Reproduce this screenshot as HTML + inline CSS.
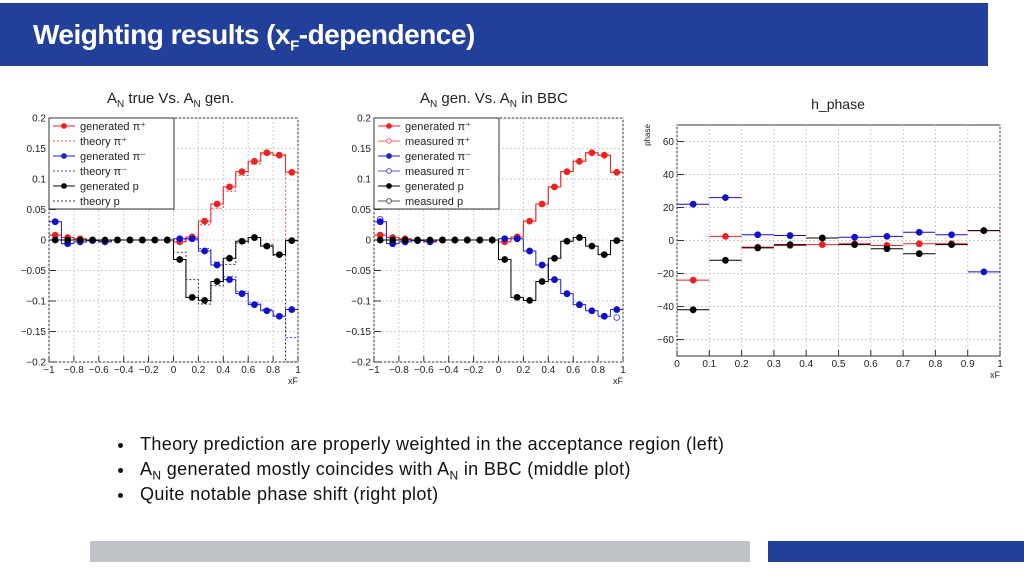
<!DOCTYPE html>
<html><head><meta charset="utf-8">
<style>
body{margin:0;width:1024px;height:574px;background:#fff;position:relative;overflow:hidden;font-family:"Liberation Sans",sans-serif}
#hdr{position:absolute;left:0;top:3px;width:988px;height:63px;background:#22409a}
#title{position:absolute;left:33px;top:19px;color:#fff;font-weight:bold;font-size:28px;white-space:nowrap;letter-spacing:-0.5px}
#title sub{font-size:15px}
ul{position:absolute;left:118px;top:432px;margin:0;padding:0;list-style:none;font-size:18px;letter-spacing:0.35px;color:#111}
li{height:25px;line-height:25px;position:relative;padding-left:22px}
li:before{content:"";position:absolute;left:0;top:11px;width:5px;height:5px;border-radius:50%;background:#111}
li sub{font-size:12px}
#gbar{position:absolute;left:90px;top:541px;width:660px;height:21px;background:#bfc3c8}
#bbar{position:absolute;left:768px;top:541px;width:256px;height:21px;background:#22409a}
svg{position:absolute;left:0;top:0}
</style></head><body>
<div id="hdr"></div>
<div id="title">Weighting results (x<sub>F</sub>-dependence)</div>
<svg id="chart" width="1024" height="574"></svg>
<ul>
<li>Theory prediction are properly weighted in the acceptance region (left)</li>
<li>A<sub>N</sub> generated mostly coincides with A<sub>N</sub> in BBC (middle plot)</li>
<li>Quite notable phase shift (right plot)</li>
</ul>
<div id="gbar"></div>
<div id="bbar"></div>
<script>
const anBins=[-0.95,-0.85,-0.75,-0.65,-0.55,-0.45,-0.35,-0.25,-0.15,-0.05,0.05,0.15,0.25,0.35,0.45,0.55,0.65,0.75,0.85,0.95];
const genPiPlus=[0.008,0.004,0.002,0,-0.002,0,0,0,0,0,-0.003,0.005,0.031,0.059,0.087,0.112,0.129,0.143,0.139,0.111];
const genPiMinus=[0.030,-0.006,-0.003,-0.001,-0.003,0,0,0,0,0,0.002,0.002,-0.018,-0.041,-0.065,-0.088,-0.106,-0.116,-0.125,-0.114];
const genP=[0,0,0,0,0,0,0,0,0,0,-0.032,-0.094,-0.099,-0.068,-0.030,-0.002,0.004,-0.010,-0.024,-0.001];
const thPiPlus=[0.008,0.004,0.002,0,-0.002,0,0,0,0,0,-0.002,0.003,0.025,0.052,0.080,0.106,0.125,0.141,0.140,0.0];
const thPiMinus=[0.030,-0.006,-0.003,-0.001,-0.003,0,0,0,0,0,0.001,0.0,-0.014,-0.036,-0.060,-0.084,-0.103,-0.114,-0.123,-0.160];
const thP=[0,0,0,0,0,0,0,0,0,0,-0.020,-0.065,-0.105,-0.075,-0.040,-0.005,0.004,-0.008,-0.025,-0.2];
const measPiPlus=genPiPlus.slice();
const measPiMinus=[0.034,-0.006,-0.003,-0.001,-0.003,0,0,0,0,0,0.002,0.002,-0.018,-0.041,-0.065,-0.088,-0.106,-0.116,-0.125,-0.127];
const measP=genP.slice();
const anYTicks=[0.2,0.15,0.1,0.05,0,-0.05,-0.1,-0.15,-0.2];
const anYLabels=["0.2","0.15","0.1","0.05","0","\u22120.05","\u22120.1","\u22120.15","\u22120.2"];
const anXTicks=[-1,-0.8,-0.6,-0.4,-0.2,0,0.2,0.4,0.6,0.8,1];
const anXLabels=["\u22121","\u22120.8","\u22120.6","\u22120.4","\u22120.2","0","0.2","0.4","0.6","0.8","1"];
const phBins=[0.05,0.15,0.25,0.35,0.45,0.55,0.65,0.75,0.85,0.95];
const phBlue=[22,26,3.5,3,1.5,2,2.5,5,3.5,-19];
const phRed=[-24,2.5,-4,-3,-2.5,-2,-3,-2,-2,6];
const phBlack=[-42,-12,-4.5,-2.5,1.5,-2.5,-5,-8,-2.5,6];
const phYTicks=[60,40,20,0,-20,-40,-60];
const phXTicks=[0,0.1,0.2,0.3,0.4,0.5,0.6,0.7,0.8,0.9,1];

const svg=document.getElementById('chart');
const NS='http://www.w3.org/2000/svg';
function mk(tag,at,parent){const e=document.createElementNS(NS,tag);for(const k in at)e.setAttribute(k,at[k]);(parent||svg).appendChild(e);return e;}
function txt(x,y,s,size,anchor,parent){const t=mk('text',{x:x,y:y,'font-size':size,'text-anchor':anchor||'middle',fill:'#222'},parent);t.textContent=s;return t;}

function frame(name,L,R,T,B,xmin,xmax,ymin,ymax,xt,xl,yt,yl){
  const g=mk('g',{});
  
  
  const sx=v=>L+(v-xmin)/(xmax-xmin)*(R-L);
  const sy=v=>B-(v-ymin)/(ymax-ymin)*(B-T);
  mk('rect',{x:L,y:T,width:R-L,height:B-T,fill:'#fff',stroke:'#333','stroke-width':1},g);
  xt.forEach((v,i)=>{const x=sx(v);
    mk('line',{x1:x,x2:x,y1:T,y2:B,stroke:'#ccc','stroke-dasharray':'2,2'},g);
    mk('line',{x1:x,x2:x,y1:B,y2:B-6,stroke:'#333'},g);
    const t=txt(x,B+11,xl[i],10,'middle',g);
    
    });
  yt.forEach((v,i)=>{const y=sy(v);
    mk('line',{x1:L,x2:R,y1:y,y2:y,stroke:'#ccc','stroke-dasharray':'2,2'},g);
    mk('line',{x1:L,x2:L+7,y1:y,y2:y,stroke:'#333'},g);
    const t=txt(L-3,y+3.5,yl[i],10,'end',g);
    
    });
  txt(R-5,B+22,'xF',9,'middle',g);
  return {g,sx,sy};
}
function stepLine(ax,bins,vals,w,color,dash,name){
  let d='';
  bins.forEach((c,i)=>{const x0=ax.sx(c-w/2),x1=ax.sx(c+w/2),y=ax.sy(vals[i]);
    d+=(i?'L':'M')+x0+','+y+'L'+x1+','+y;});
  const p=mk('path',{d:d,fill:'none',stroke:color,'stroke-width':1,'stroke-dasharray':dash||'none'},ax.g);
  
  
}
function points(ax,bins,vals,color,open,name,w){
  bins.forEach((c,i)=>{
    if(w){const y=ax.sy(vals[i]);mk('line',{x1:ax.sx(c-w/2),x2:ax.sx(c+w/2),y1:y,y2:y,stroke:color},ax.g);}
    const m=mk('circle',{cx:ax.sx(c),cy:ax.sy(vals[i]),r:2.9,fill:open?'none':color,stroke:color},ax.g);
    
    });
}
function legend(x,y,w,h,items){
  const g=mk('g',{});
  
  
  mk('rect',{x:x,y:y,width:w,height:h,fill:'#fff',stroke:'#333'},g);
  items.forEach((it,i)=>{const yy=y+8+i*15;
    mk('line',{x1:x+4,x2:x+26,y1:yy,y2:yy,stroke:it[1],'stroke-dasharray':it[2]?'2,2':'none'},g);
    if(!it[2])mk('circle',{cx:x+15,cy:yy,r:2.4,fill:it[3]?'#fff':it[1],stroke:it[1]},g);
    const t=txt(x+31,yy+4,it[0],11,'start',g);
    
    });
}

// Left plot
const a1=frame('an-true-vs-gen-plot',49,298,118,362,-1,1,-0.2,0.2,anXTicks,anXLabels,anYTicks,anYLabels);
const t1=txt(107,103,'',15,'start');t1.innerHTML='A<tspan font-size="10" dy="4">N</tspan><tspan dy="-4"> true Vs. A</tspan><tspan font-size="10" dy="4">N</tspan><tspan dy="-4"> gen.</tspan>';


stepLine(a1,anBins,thPiPlus,0.1,'#e44','2,2','theory-pi-plus');
stepLine(a1,anBins,thPiMinus,0.1,'#44c','2,2','theory-pi-minus');
stepLine(a1,anBins,thP,0.1,'#333','2,2','theory-p');
stepLine(a1,anBins,genPiPlus,0.1,'#e22','','generated-pi-plus-line');
stepLine(a1,anBins,genPiMinus,0.1,'#22c','','generated-pi-minus-line');
stepLine(a1,anBins,genP,0.1,'#000','','generated-p-line');
points(a1,anBins,genPiPlus,'#e22',false,'generated-pi-plus-point');
points(a1,anBins,genPiMinus,'#11c',false,'generated-pi-minus-point');
points(a1,anBins,genP,'#000',false,'generated-p-point');
legend(49,118,125,91,[['generated \u03c0\u207a','#e22',0],['theory \u03c0\u207a','#e44',1],['generated \u03c0\u207b','#22c',0],['theory \u03c0\u207b','#44c',1],['generated p','#000',0],['theory p','#333',1]]);

// Middle plot
const a2=frame('an-gen-vs-bbc-plot',374,623,118,362,-1,1,-0.2,0.2,anXTicks,anXLabels,anYTicks,anYLabels);
const t2=txt(420,103,'',15,'start');t2.innerHTML='A<tspan font-size="10" dy="4">N</tspan><tspan dy="-4"> gen. Vs. A</tspan><tspan font-size="10" dy="4">N</tspan><tspan dy="-4"> in BBC</tspan>';


stepLine(a2,anBins,measPiPlus,0.1,'#f66','','measured-pi-plus-line');
stepLine(a2,anBins,genPiPlus,0.1,'#e22','','generated-pi-plus-line');
stepLine(a2,anBins,genPiMinus,0.1,'#22c','','generated-pi-minus-line');
stepLine(a2,anBins,genP,0.1,'#000','','generated-p-line');
points(a2,anBins,measPiMinus,'#55c',true,'measured-pi-minus-point');
points(a2,anBins,genPiPlus,'#e22',false,'generated-pi-plus-point');
points(a2,anBins,genPiMinus,'#11c',false,'generated-pi-minus-point');
points(a2,anBins,genP,'#000',false,'generated-p-point');
legend(374,118,125,91,[['generated \u03c0\u207a','#e22',0],['measured \u03c0\u207a','#f66',0,1],['generated \u03c0\u207b','#22c',0],['measured \u03c0\u207b','#55c',0,1],['generated p','#000',0],['measured p','#555',0,1]]);

// Right plot
const a3=frame('h-phase-plot',677,1000,125,356,0,1,-70,70,phXTicks,phXTicks.map(String),phYTicks,phYTicks.map(v=>v<0?'\u2212'+(-v):String(v)));
const t3=txt(838,109,'h_phase',14,'middle');


const yl=txt(650,135,'phase',8,'middle');yl.setAttribute('transform','rotate(-90 650 135)');


points(a3,phBins,phBlue,'#11c',false,'phase-blue-point',0.1);
points(a3,phBins,phRed,'#e22',false,'phase-red-point',0.1);
points(a3,phBins,phBlack,'#000',false,'phase-black-point',0.1);
</script>
</body></html>
